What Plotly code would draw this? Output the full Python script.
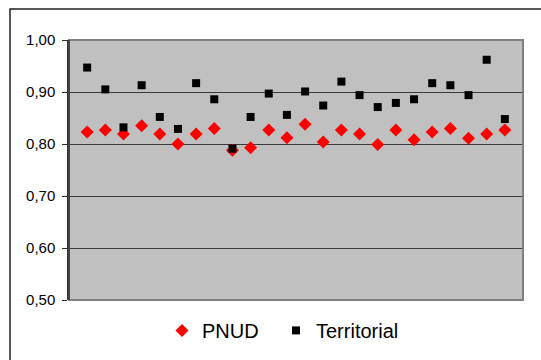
import plotly.graph_objects as go

x_idx = list(range(1, 25))
pnud = [0.823, 0.827, 0.819, 0.835, 0.819, 0.800, 0.819, 0.830, 0.788, 0.793, 0.827, 0.812,
        0.838, 0.804, 0.827, 0.819, 0.799, 0.827, 0.808, 0.823, 0.830, 0.811, 0.819, 0.827]
territorial = [0.947, 0.905, 0.832, 0.913, 0.852, 0.829, 0.917, 0.886, 0.791, 0.852, 0.897, 0.856,
               0.901, 0.874, 0.920, 0.894, 0.871, 0.879, 0.886, 0.917, 0.913, 0.894, 0.962, 0.848]
y_ticks = [0.5, 0.6, 0.7, 0.8, 0.9, 1.0]

W, H = 541, 360
L, R, T, B = 69, 18, 40, 60
pw, ph = W - L - R, H - T - B

fig = go.Figure()
fig.add_trace(go.Scatter(x=x_idx, y=pnud, mode="markers", name="PNUD", legend="legend",
                         marker=dict(symbol="diamond", color="#FF0000", size=10, line=dict(width=0))))
fig.add_trace(go.Scatter(x=x_idx, y=territorial, mode="markers", name="Territorial", legend="legend2",
                         marker=dict(symbol="square", color="#000000", size=8, line=dict(width=0))))

leg_common = dict(orientation="h", xanchor="left", y=-0.042, yanchor="top",
                  font=dict(size=20), tracegroupgap=0, bgcolor="rgba(0,0,0,0)")

fig.update_layout(
    width=W, height=H,
    margin=dict(l=L, r=R, t=T, b=B, autoexpand=False),
    paper_bgcolor="white", plot_bgcolor="#C0C0C0",
    separators=", ",
    font=dict(family="Liberation Sans, Arial", size=15, color="black"),
    showlegend=True,
    legend=dict(x=(162 - L) / pw, **leg_common),
    legend2=dict(x=(276 - L) / pw, **leg_common),
    xaxis=dict(range=[0, 25], showgrid=False, zeroline=False, showticklabels=False,
               ticks="", showline=False),
    yaxis=dict(range=[0.5, 1.0], tickvals=y_ticks, tickformat=".2f",
               showgrid=True, gridcolor="#3a3a3a", gridwidth=1, zeroline=False,
               ticks="outside", ticklen=5, tickcolor="#303030",
               showline=True, linecolor="#303030", linewidth=1.5, ticklabelstandoff=4),
    shapes=[
        dict(type="rect", xref="paper", yref="paper", x0=0, x1=1, y0=0, y1=1,
             line=dict(color="#808080", width=2), layer="above"),
        dict(type="line", xref="paper", yref="paper", x0=0, x1=0, y0=0, y1=1,
             line=dict(color="#303030", width=1.5), layer="above"),
        dict(type="rect", xref="paper", yref="paper",
             x0=(10 - L) / pw, x1=(W + 20 - L) / pw,
             y0=-(H + 20 - T - ph) / ph, y1=1 + (T - 9) / ph,
             line=dict(color="#202020", width=1.5), layer="below"),
    ],
)

fig.write_html("out.html")
